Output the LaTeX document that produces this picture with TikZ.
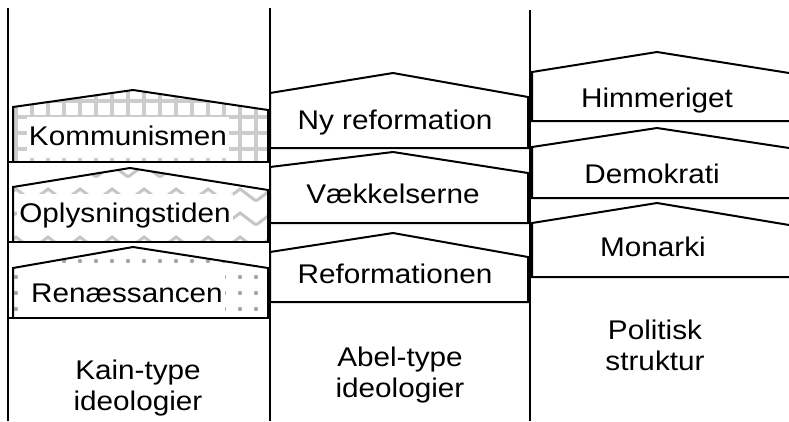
\documentclass[tikz,border=0pt]{standalone}
\usepackage{fontspec}
\setmainfont[FakeStretch=1.1]{Liberation Sans}
\usetikzlibrary{patterns.meta}

\tikzdeclarepattern{
  name=zickzack,
  type=uncolored,
  bottom left={(-1pt,-1pt)},
  top right={(33pt,25pt)},
  tile size={(32pt,24pt)},
  code={
    \draw[line width=3pt] (0pt,4pt) -- (16pt,16pt) -- (32pt,4pt);
  }
}

\begin{document}
\begin{tikzpicture}[x=1pt,y=-1pt,
  streg/.style={line width=2pt},
  hus/.style={line width=2pt,line join=miter},
  felt/.style={font=\fontsize{27}{31}\selectfont,fill=white,anchor=base,
               inner xsep=2pt,inner ysep=8pt,text height=20pt,text depth=5pt},
  fod/.style={font=\fontsize{27}{31}\selectfont,align=center},
  gitter/.style={pattern={Hatch[distance=16pt,angle=0,line width=3.6pt]},pattern color=gray!40},
  bolge/.style={pattern=zickzack,pattern color=gray!45},
  prik/.style={pattern={Dots[distance=16pt,radius=2.2pt]},pattern color=gray!70},
]
\fill[white] (0,0) rectangle (789,421);
\useasboundingbox (0,0) rectangle (789,421);

% Kain-type ideologier
\fill[gitter] (13,107) -- (133,90) -- (268,110) -- (268,162) -- (13,162) -- cycle;
\node[felt] (komm) at (128,145) {Kommunismen};
\draw[hus] (13,162) -- (13,107) -- (133,90) -- (268,110) -- (268,162);
\draw[streg] (8,162) -- (270,162);

\fill[bolge] (13,187) -- (130,168) -- (268,190) -- (268,242) -- (13,242) -- cycle;
\node[felt] (oply) at (125,222) {Oplysningstiden};
\draw[hus] (13,242) -- (13,187) -- (130,168) -- (268,190) -- (268,242);
\draw[streg] (8,242) -- (270,242);

\fill[prik] (13,268) -- (133,247) -- (268,268) -- (268,318) -- (13,318) -- cycle;
\node[felt] (renae) at (127,302) {Renæssancen};
\draw[hus] (13,318) -- (13,268) -- (133,247) -- (268,268) -- (268,318);
\draw[streg] (8,318) -- (270,318);

% Abel-type ideologier
\node[felt] (nyref) at (395,129) {Ny reformation};
\draw[hus] (530,148) -- (270,148) -- (270,93) -- (393,73) -- (528,97) -- (528,148);
\node[felt] (vaek) at (393,203) {Vækkelserne};
\draw[hus] (530,223) -- (270,223) -- (270,167) -- (393,152) -- (528,173) -- (528,223);
\node[felt] (refor) at (395,283) {Reformationen};
\draw[hus] (530,302) -- (270,302) -- (270,252) -- (393,233) -- (528,257) -- (528,302);

% Politisk struktur
\node[felt] (himm) at (657,107) {Himmeriget};
\draw[hus] (789,121) -- (532,121) -- (532,72) -- (657,52) -- (789,73);
\node[felt] (demo) at (652,183) {Demokrati};
\draw[hus] (789,198) -- (532,198) -- (532,147) -- (657,128) -- (789,148);
\node[felt] (mona) at (653,256) {Monarki};
\draw[hus] (789,277) -- (532,277) -- (532,223) -- (657,203) -- (789,225);

% Columns
\draw[streg] (8,8) -- (8,421);
\draw[streg] (270,8) -- (270,421);
\draw[streg] (530,10) -- (530,421);

\node[fod] (kain)  at (138,388) {Kain-type\\ideologier};
\node[fod] (abel)  at (400,375) {Abel-type\\ideologier};
\node[fod] (polit) at (655,345) {Politisk\\struktur};
\end{tikzpicture}
\end{document}
